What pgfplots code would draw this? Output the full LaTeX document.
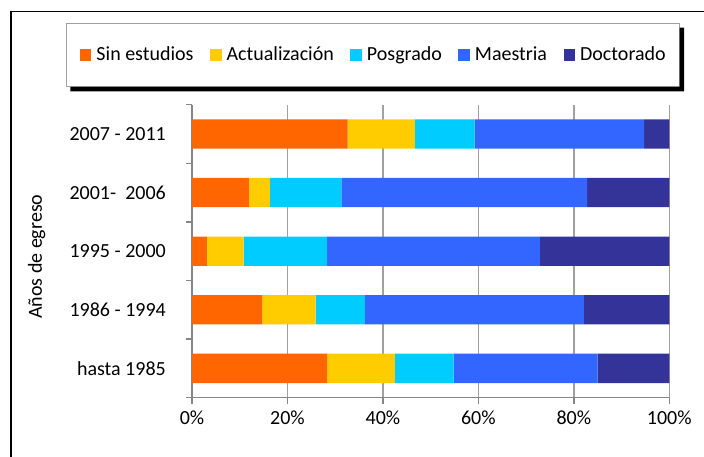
\documentclass[border=0pt]{standalone}
\usepackage{pgfplots}
\pgfplotsset{compat=1.18}
\usepackage{pgfplotstable}
\usepackage{fontspec}
\setmainfont{Carlito}
\definecolor{cSin}{HTML}{FF6600}
\definecolor{cAct}{HTML}{FFCC00}
\definecolor{cPos}{HTML}{00CCFF}
\definecolor{cMae}{HTML}{3366FF}
\definecolor{cDoc}{HTML}{333399}
\definecolor{gridc}{HTML}{A0A0A0}
\definecolor{axc}{HTML}{868686}
\pgfplotstableread{
y sin act pos mae doc
0 28.3 14.2 12.3 30.2 15.0
1 14.7 11.2 10.3 45.9 17.9
2 3.1 7.7 17.5 44.6 27.1
3 11.9 4.4 15.0 51.5 17.2
4 32.6 14.1 12.5 35.5 5.3
}\data
\begin{document}
\fontsize{20}{24}\selectfont
\begin{tikzpicture}
\path[use as bounding box] (0pt,0pt) rectangle (704pt,457pt);
\begin{axis}[
  at={(192pt,59.3pt)}, anchor=south west,
  scale only axis, width=477.3pt, height=293pt,
  xbar stacked, bar width=29.3pt,
  xmin=0, xmax=100, ymin=-0.5, ymax=4.5,
  axis x line*=bottom, axis y line*=left,
  axis line style={axc, line width=1.5pt},
  xtick={0,20,40,60,80,100},
  xticklabels={0\%,20\%,40\%,60\%,80\%,100\%},
  ytick={0,1,2,3,4},
  yticklabels={hasta 1985,1986 - 1994,1995 - 2000,2001-~ 2006,2007 - 2011},
  minor ytick={-0.5,0.5,...,4.5},
  tick align=outside,
  major tick length=6pt, minor tick length=6pt,
  major x tick style={axc, line width=1.5pt},
  major y tick style={draw=none},
  minor y tick style={axc, line width=1.5pt},
  xmajorgrids, major x grid style={gridc, line width=1.5pt},
  yticklabel style={inner sep=0pt, xshift=-20pt},
  xticklabel style={inner sep=0pt, yshift=-7pt},
  ylabel={Años de egreso},
  ylabel style={at={(axis description cs:-0.3254,0.481)}, anchor=center},
  every axis plot post/.append style={legend image code/.code={\fill[##1,draw=none] (0pt,-5.8pt) rectangle (11.6pt,5.8pt);}},
  legend columns=5,
  legend style={at={(axis description cs:0.3788,1.1696)}, anchor=center,
    name=leg,
    draw=gridc, line width=1pt, fill=white,
    inner xsep=13.5pt, inner ysep=23pt,
    nodes={inner sep=0pt},
    /tikz/every odd column/.append style={column sep=5pt},
    /tikz/every even column/.append style={column sep=16.5pt},
    font=\fontsize{20}{24}\selectfont},
]
\addplot[fill=cSin, draw=none] table[x=sin, y=y] {\data};
\addplot[fill=cAct, draw=none] table[x=act, y=y] {\data};
\addplot[fill=cPos, draw=none] table[x=pos, y=y] {\data};
\addplot[fill=cMae, draw=none] table[x=mae, y=y] {\data};
\addplot[fill=cDoc, draw=none] table[x=doc, y=y] {\data};
\legend{Sin estudios,Actualización,Posgrado,Maestria,Doctorado}
\end{axis}
\fill[black] ([xshift=4.5pt]leg.south west) -- ([xshift=4.5pt,yshift=-4.5pt]leg.south west)
  -- ([xshift=4.5pt,yshift=-4.5pt]leg.south east) -- ([xshift=4.5pt,yshift=-4.5pt]leg.north east)
  -- ([yshift=-4.5pt]leg.north east) -- (leg.south east) -- cycle;
\draw[line width=1.5pt] (10.8pt,-5pt) -- (10.8pt,445.3pt) -- (710pt,445.3pt);
\end{tikzpicture}
\end{document}
